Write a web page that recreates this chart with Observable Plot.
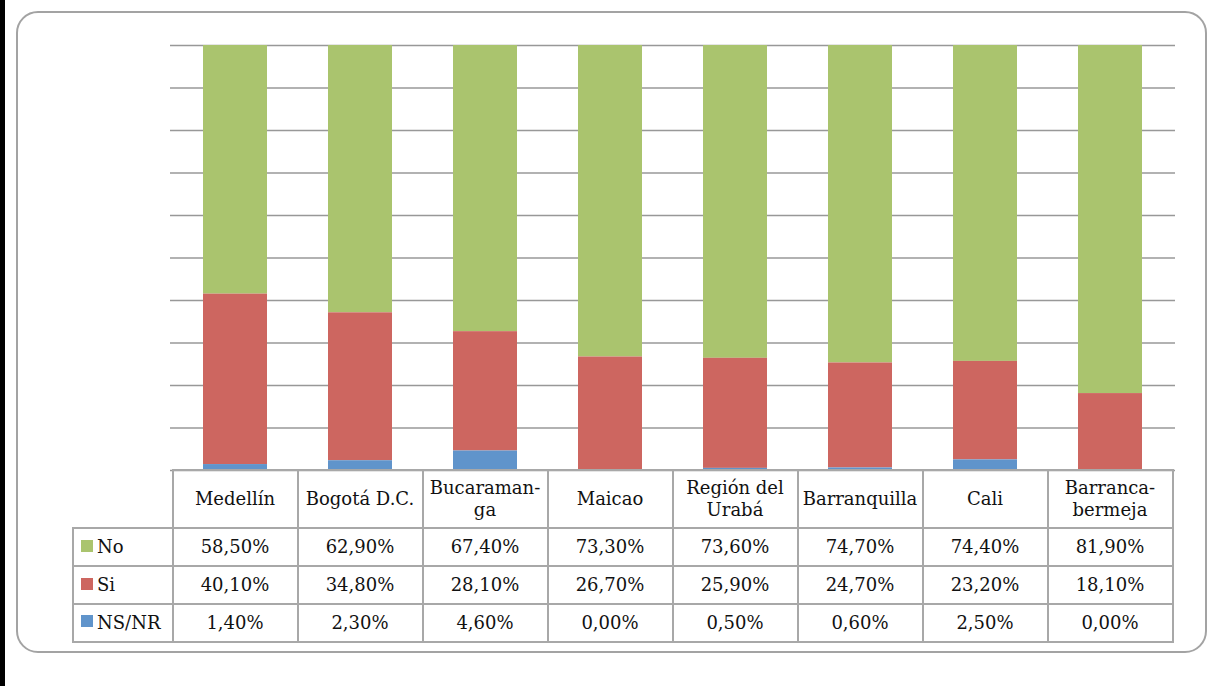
<!DOCTYPE html>
<html>
<head>
<meta charset="utf-8">
<script src="https://cdn.jsdelivr.net/npm/d3@7"></script>
<script src="https://cdn.jsdelivr.net/npm/@observablehq/plot@0.6"></script>
<style>
  html, body { margin: 0; padding: 0; background: #fff; }
  #wrap { position: relative; width: 1208px; height: 686px; overflow: hidden; font-family: "DejaVu Serif", "Liberation Serif", serif; color: #111; }
  #leftbar { position: absolute; left: 0; top: 0; width: 5px; height: 686px; background: #000; }
  #frame { position: absolute; left: 16px; top: 11px; width: 1191px; height: 642px; box-sizing: border-box; border: 2px solid #a3a3a3; border-radius: 22px; }
  #chart { position: absolute; left: 0; top: 0; }
  .cell { position: absolute; box-sizing: border-box; border: 2px solid #a8a8a8; display: flex; align-items: center; justify-content: center; text-align: center; font-size: 18px; line-height: 22px; white-space: pre-line; background: transparent; }
  .leg { justify-content: flex-start; padding-left: 7px; }
  .sw { display: inline-block; width: 12px; height: 12px; margin-right: 4px; margin-top: -3px; }
</style>
</head>
<body>
<div id="wrap">
  <div id="leftbar"></div>
  <div id="frame"></div>
  <div id="chart"></div>
</div>
<script>
const categories = ["Medellín", "Bogotá D.C.", "Bucaramanga", "Maicao", "Región del Urabá", "Barranquilla", "Cali", "Barrancabermeja"];
const headerLabels = ["Medellín", "Bogotá D.C.", "Bucaraman-\nga", "Maicao", "Región del\nUrabá", "Barranquilla", "Cali", "Barranca-\nbermeja"];
const seriesNames = ["No", "Si", "NS/NR"];
const seriesColors = ["#aac46e", "#cd6660", "#6094cb"];
const noValues = [58.5, 62.9, 67.4, 73.3, 73.6, 74.7, 74.4, 81.9];
const siValues = [40.1, 34.8, 28.1, 26.7, 25.9, 24.7, 23.2, 18.1];
const nsValues = [1.4, 2.3, 4.6, 0.0, 0.5, 0.6, 2.5, 0.0];
const gridTicks = [0, 0.1, 0.2, 0.3, 0.4, 0.5, 0.6, 0.7, 0.8, 0.9, 1.0];

const valuesBySeries = {"No": noValues, "Si": siValues, "NS/NR": nsValues};
const data = [];
for (const s of seriesNames) {
  categories.forEach((c, i) => data.push({city: c, series: s, value: valuesBySeries[s][i]}));
}

const chart = Plot.plot({
  width: 1208,
  height: 471,
  marginLeft: 170,
  marginRight: 33,
  marginTop: 45,
  marginBottom: 1,
  x: {domain: categories, paddingInner: 0.486, paddingOuter: 0.243, axis: null},
  y: {domain: [0, 1], axis: null},
  color: {domain: seriesNames, range: seriesColors},
  style: {background: "transparent", overflow: "visible"},
  marks: [
    Plot.ruleY(gridTicks, {stroke: "#989898", strokeWidth: 1.6}),
    Plot.barY(data, {x: "city", y: "value", fill: "series", offset: "normalize", order: ["NS/NR", "Si", "No"]})
  ]
});
document.getElementById("chart").appendChild(chart);

// Data table below the chart, columns aligned with the Plot x scale
const xs = chart.scale("x");
const step = xs.step;
const colLeft = c => xs.apply(c) + xs.bandwidth / 2 - step / 2;
const wrap = document.getElementById("wrap");
const rowTops = [470, 528, 566, 604, 641.5];
const legendLeft = 73;

function addCell(x0, x1, y0, y1, html, cls) {
  const d = document.createElement("div");
  d.className = "cell" + (cls ? " " + cls : "");
  d.style.left = (x0 - 1) + "px";
  d.style.top = (y0 - 1) + "px";
  d.style.width = (x1 - x0 + 2) + "px";
  d.style.height = (y1 - y0 + 2) + "px";
  d.innerHTML = html;
  wrap.appendChild(d);
}
const fmt = v => v.toFixed(2).replace(".", ",") + "%";

categories.forEach((c, i) => {
  const x0 = colLeft(c);
  addCell(x0, x0 + step, rowTops[0], rowTops[1], headerLabels[i]);
});
seriesNames.forEach((s, r) => {
  const y0 = rowTops[r + 1], y1 = rowTops[r + 2];
  addCell(legendLeft, colLeft(categories[0]), y0, y1,
    `<span class="sw" style="background:${seriesColors[r]}"></span>${s}`, "leg");
  categories.forEach((c, i) => {
    const x0 = colLeft(c);
    addCell(x0, x0 + step, y0, y1, fmt(valuesBySeries[s][i]));
  });
});
</script>
</body>
</html>
